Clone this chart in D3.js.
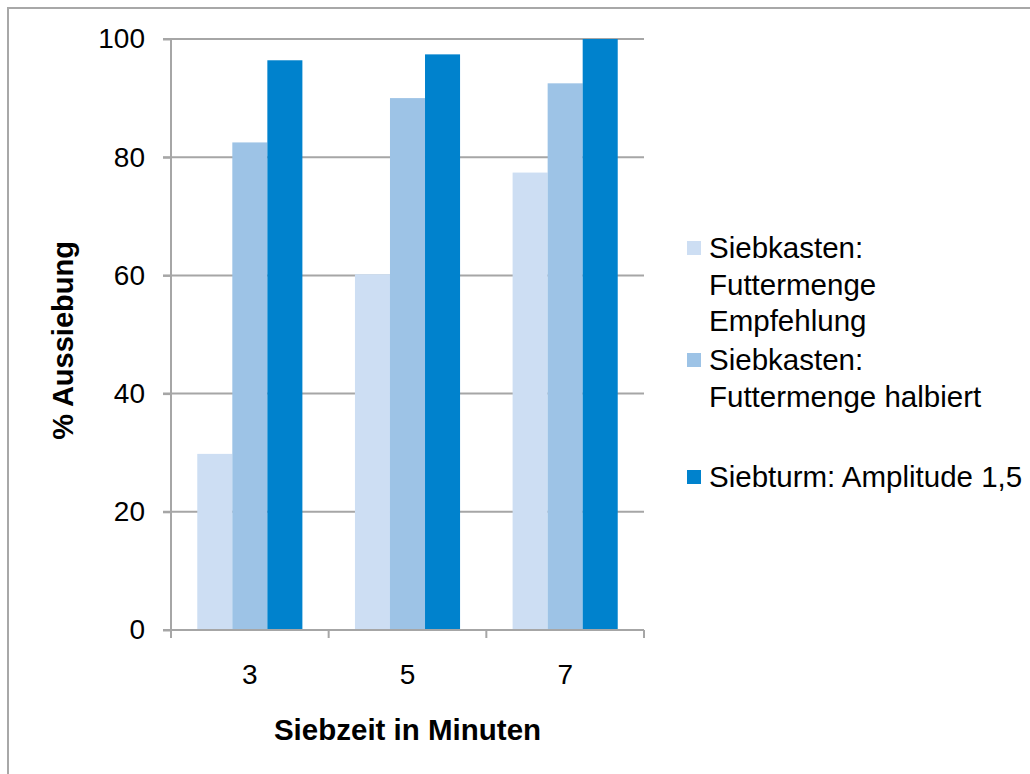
<!DOCTYPE html>
<html>
<head>
<meta charset="utf-8">
<script src="https://cdn.jsdelivr.net/npm/d3@7"></script>
<style>
  html, body { margin: 0; padding: 0; background: #fff; }
  svg { display: block; font-family: "Liberation Sans", Arial, sans-serif; }
</style>
</head>
<body>
<svg id="chart" width="1030" height="774"></svg>
<script>
// ---- data ----
const categories = ["3", "5", "7"];
const seriesNames = [
  ["Siebkasten:", "Futtermenge", "Empfehlung"],
  ["Siebkasten:", "Futtermenge halbiert"],
  ["Siebturm: Amplitude 1,5"]
];
const seriesEmpfehlung = [29.8, 60.2, 77.4];
const seriesHalbiert = [82.5, 90.0, 92.5];
const seriesSiebturm = [96.4, 97.4, 100.0];
const yTicks = [0, 20, 40, 60, 80, 100];
const xTitle = "Siebzeit in Minuten";
const yTitle = "% Aussiebung";

const seriesValues = [seriesEmpfehlung, seriesHalbiert, seriesSiebturm];
const colors = ["#CDDEF3", "#9DC3E6", "#0082CD"];

// ---- layout ----
const svg = d3.select("#chart");
const L = 171, R = 644, T = 39, B = 630;
const gridColor = "#A6A6A6";

// outer frame
svg.append("path")
  .attr("d", "M8,780 L8,8 L1040,8")
  .attr("fill", "none").attr("stroke", "#A8A8A8").attr("stroke-width", 2);

const x0 = d3.scaleBand().domain(categories).range([L, R]).padding(0);
const x1 = d3.scaleBand().domain(d3.range(seriesValues.length))
  .range([0, x0.bandwidth()]).paddingInner(0).paddingOuter(0.75);
const y = d3.scaleLinear().domain([0, 100]).range([B, T]);

// gridlines
svg.append("g").selectAll("line").data(yTicks.filter(d => d > 0)).join("line")
  .attr("x1", L - 8).attr("x2", R)
  .attr("y1", d => y(d)).attr("y2", d => y(d))
  .attr("stroke", gridColor).attr("stroke-width", 2);

// bars
const data = [];
categories.forEach((c, ci) => {
  seriesValues.forEach((s, si) => data.push({ c, si, v: s[ci] }));
});
svg.append("g").selectAll("rect").data(data).join("rect")
  .attr("x", d => x0(d.c) + x1(d.si))
  .attr("width", x1.bandwidth())
  .attr("y", d => y(d.v))
  .attr("height", d => y(0) - y(d.v))
  .attr("fill", d => colors[d.si]);

// y axis
const yAxis = d3.axisLeft(y).tickValues(yTicks).tickSize(8).tickPadding(18);
const gy = svg.append("g").attr("transform", `translate(${L},0)`).call(yAxis);
gy.select(".domain").attr("stroke", gridColor).attr("stroke-width", 2)
  .attr("d", `M0,${T}V${B + 8}`);
gy.selectAll(".tick line").attr("stroke", gridColor).attr("stroke-width", 2);
gy.selectAll(".tick text").attr("font-size", 28).attr("fill", "#000")
  .attr("font-family", "Liberation Sans, Arial, sans-serif");

// x axis
const xAxis = d3.axisBottom(x0).tickSize(0).tickPadding(34);
const gx = svg.append("g").attr("transform", `translate(0,${B})`).call(xAxis);
gx.select(".domain").attr("stroke", gridColor).attr("stroke-width", 2)
  .attr("d", `M${L - 8},0H${R}`);
gx.selectAll(".tick text").attr("font-size", 28).attr("fill", "#000")
  .attr("font-family", "Liberation Sans, Arial, sans-serif");
const boundaries = categories.map(c => x0(c)).concat([x0.range()[1]]);
gx.append("g").selectAll("line").data(boundaries).join("line")
  .attr("x1", d => d).attr("x2", d => d).attr("y1", 0).attr("y2", 8)
  .attr("stroke", gridColor).attr("stroke-width", 2);

// axis titles
svg.append("text").attr("x", (L + R) / 2).attr("y", 740)
  .attr("text-anchor", "middle").attr("font-size", 29.5).attr("font-weight", "bold")
  .attr("fill", "#000").text(xTitle);
svg.append("text")
  .attr("transform", `translate(73,${(T + B) / 2 + 6}) rotate(-90)`)
  .attr("text-anchor", "middle").attr("font-size", 29).attr("font-weight", "bold")
  .attr("fill", "#000").text(yTitle);

// legend
const legendTops = [248, 360, 477];
const lineH = 36.5;
const leg = svg.append("g");
seriesNames.forEach((lines, i) => {
  const cy = legendTops[i];
  leg.append("rect").attr("x", 687).attr("y", cy - 7).attr("width", 14).attr("height", 14)
    .attr("fill", colors[i]);
  const t = leg.append("text").attr("x", 709).attr("y", cy + 10)
    .attr("font-size", 29.5).attr("fill", "#000");
  lines.forEach((ln, j) => {
    t.append("tspan").attr("x", 709).attr("dy", j === 0 ? 0 : lineH).text(ln);
  });
});
</script>
</body>
</html>
